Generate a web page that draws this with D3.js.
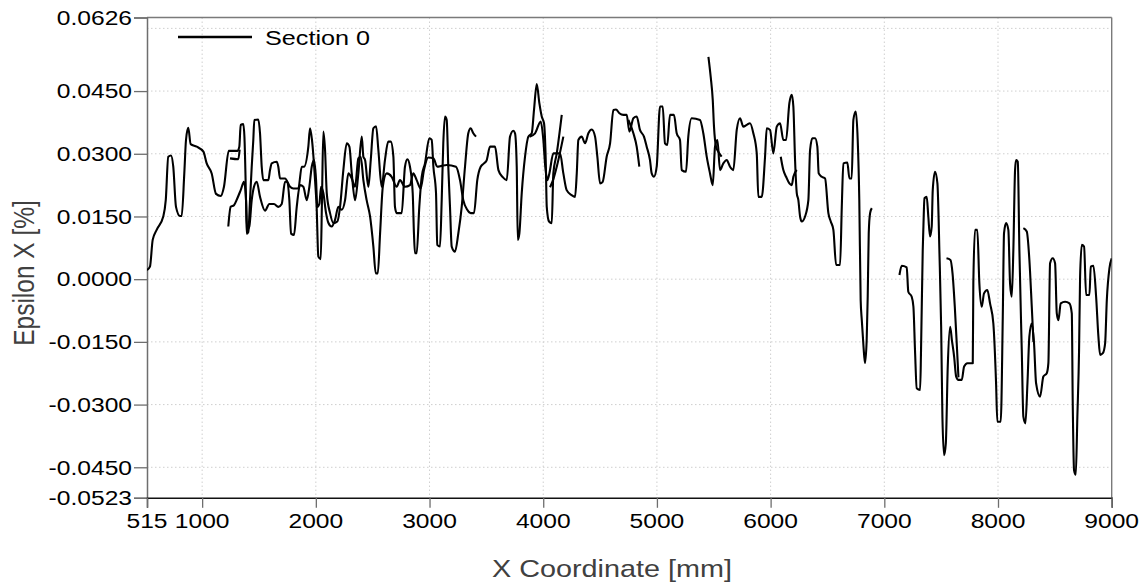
<!DOCTYPE html>
<html>
<head>
<meta charset="utf-8">
<script src="https://cdn.jsdelivr.net/npm/d3@7"></script>
<style>
  body { margin: 0; background: #fff; }
  svg { display: block; font-family: "Liberation Sans", Arial, sans-serif; }
</style>
</head>
<body>
<script>
// tick values as printed on the chart
var xTicks = [515, 1000, 2000, 3000, 4000, 5000, 6000, 7000, 8000, 9000];
var yTicks = [0.0626, 0.0450, 0.0300, 0.0150, 0.0000, -0.0150, -0.0300, -0.0450, -0.0523];
var xGrid = [1000, 2000, 3000, 4000, 5000, 6000, 7000, 8000];
var yGrid = [0.0600, 0.0450, 0.0300, 0.0150, 0.0000, -0.0150, -0.0300, -0.0450];

// Section 0, measured in several overlapping runs [x mm, epsilon %]
var segA = [[515,0.0022],[541,0.0030],[565,0.0094],[600,0.0118],[658,0.0150],[680,0.0189],[702,0.0293],[726,0.0296],[746,0.0269],[770,0.0173],[805,0.0151],[820,0.0151],[843,0.0253],[858,0.0333],[878,0.0362],[899,0.0323],[952,0.0317],[1011,0.0305],[1040,0.0277],[1084,0.0253],[1122,0.0204],[1163,0.0199],[1192,0.0221],[1234,0.0307],[1309,0.0307],[1327,0.0317],[1339,0.0369],[1362,0.0371],[1372,0.0340],[1386,0.0189],[1392,0.0109],[1406,0.0113],[1421,0.0189],[1436,0.0269],[1450,0.0333],[1459,0.0381],[1494,0.0382],[1509,0.0349],[1524,0.0269],[1538,0.0237],[1582,0.0237],[1597,0.0261],[1612,0.0277],[1656,0.0281],[1670,0.0269],[1685,0.0241],[1729,0.0241],[1773,0.0221],[1802,0.0217],[1846,0.0217],[1876,0.0269],[1896,0.0269],[1934,0.0317],[1949,0.0361],[1966,0.0333],[1993,0.0237],[2007,0.0173],[2022,0.0054],[2043,0.0048],[2054,0.0189],[2066,0.0353],[2081,0.0309],[2096,0.0206],[2125,0.0158],[2154,0.0134],[2189,0.0138],[2213,0.0173],[2242,0.0261],[2272,0.0325],[2295,0.0317],[2316,0.0253],[2345,0.0189],[2374,0.0253],[2404,0.0341],[2418,0.0293],[2433,0.0285],[2462,0.0221],[2483,0.0285],[2506,0.0361],[2530,0.0366],[2550,0.0309],[2579,0.0221],[2608,0.0285],[2637,0.0329],[2659,0.0329],[2682,0.0293],[2696,0.0173],[2711,0.0158],[2755,0.0158],[2784,0.0269],[2805,0.0287],[2828,0.0269],[2852,0.0206],[2863,0.0109],[2872,0.0062],[2887,0.0062],[2910,0.0173],[2931,0.0245],[2960,0.0277],[2998,0.0337],[3019,0.0333],[3034,0.0269],[3057,0.0206],[3068,0.0082],[3092,0.0078],[3107,0.0189],[3121,0.0325],[3136,0.0389],[3151,0.0381],[3165,0.0269],[3180,0.0173],[3195,0.0078],[3224,0.0066],[3253,0.0109],[3283,0.0173],[3312,0.0269],[3341,0.0349],[3362,0.0361],[3385,0.0349],[3409,0.0341]];

var segA2 = [[1245,0.0289],[1318,0.0287],[1330,0.0310]];

var segB = [[1230,0.0126],[1251,0.0173],[1280,0.0177],[1309,0.0193],[1339,0.0213],[1368,0.0233],[1386,0.0189],[1397,0.0118],[1415,0.0126],[1436,0.0189],[1456,0.0221],[1480,0.0233],[1509,0.0197],[1553,0.0164],[1591,0.0180],[1632,0.0180],[1670,0.0173],[1700,0.0180],[1729,0.0233],[1749,0.0233],[1767,0.0189],[1782,0.0109],[1808,0.0106],[1832,0.0173],[1861,0.0225],[1890,0.0221],[1920,0.0189],[1943,0.0221],[1964,0.0269],[1984,0.0285],[2002,0.0237],[2013,0.0173],[2031,0.0180],[2046,0.0221],[2066,0.0206],[2090,0.0158],[2110,0.0135],[2139,0.0126],[2169,0.0142],[2198,0.0173],[2228,0.0166],[2257,0.0189],[2286,0.0253],[2316,0.0241],[2345,0.0221],[2374,0.0289],[2395,0.0293],[2418,0.0237],[2447,0.0189],[2477,0.0150],[2506,0.0078],[2527,0.0014],[2545,0.0014],[2565,0.0109],[2589,0.0221],[2623,0.0253],[2667,0.0245],[2711,0.0221],[2740,0.0237],[2784,0.0221],[2828,0.0225],[2857,0.0253],[2887,0.0237],[2922,0.0217],[2951,0.0261],[2989,0.0291],[3034,0.0289],[3068,0.0269],[3107,0.0271],[3151,0.0273],[3233,0.0269],[3268,0.0237],[3297,0.0189],[3332,0.0166],[3362,0.0158],[3391,0.0158],[3420,0.0237],[3450,0.0269],[3479,0.0277],[3503,0.0285],[3532,0.0317],[3576,0.0317],[3606,0.0261],[3644,0.0244],[3679,0.0237],[3708,0.0341],[3737,0.0355],[3752,0.0349],[3767,0.0269],[3776,0.0094],[3790,0.0109],[3811,0.0206],[3840,0.0293],[3869,0.0341],[3899,0.0349],[3919,0.0405],[3943,0.0467],[3966,0.0421],[3987,0.0389],[4007,0.0373],[4022,0.0285],[4031,0.0173],[4051,0.0138],[4075,0.0134],[4089,0.0253],[4119,0.0301],[4163,0.0393]];

var segB2 = [[4060,0.0220],[4090,0.0240],[4120,0.0270],[4177,0.0341]];

var segC = [[3880,0.0341],[3928,0.0349],[3978,0.0377],[4001,0.0333],[4018,0.0269],[4036,0.0237],[4054,0.0253],[4089,0.0301],[4148,0.0301],[4177,0.0253],[4206,0.0213],[4250,0.0201],[4280,0.0197],[4295,0.0253],[4309,0.0333],[4338,0.0341],[4368,0.0325],[4397,0.0349],[4427,0.0358],[4456,0.0341],[4476,0.0293],[4500,0.0229],[4523,0.0233],[4558,0.0293],[4588,0.0325],[4617,0.0405],[4640,0.0406],[4670,0.0397],[4705,0.0393],[4734,0.0393],[4758,0.0353],[4793,0.0385],[4822,0.0389],[4851,0.0357],[4886,0.0341],[4910,0.0317],[4939,0.0285],[4954,0.0253],[4974,0.0245],[4998,0.0269],[5027,0.0413],[5051,0.0413],[5071,0.0325],[5091,0.0321],[5115,0.0393],[5150,0.0393],[5174,0.0349],[5203,0.0333],[5218,0.0261],[5256,0.0257],[5276,0.0341],[5306,0.0385],[5379,0.0381],[5408,0.0349],[5438,0.0293],[5467,0.0253],[5491,0.0225],[5511,0.0317],[5532,0.0333],[5555,0.0261],[5584,0.0277],[5614,0.0285],[5643,0.0269],[5672,0.0261],[5702,0.0357],[5731,0.0385],[5760,0.0365],[5790,0.0369],[5819,0.0373],[5848,0.0349],[5878,0.0301],[5892,0.0197],[5922,0.0197],[5951,0.0293],[5966,0.0361],[5995,0.0357],[6024,0.0301],[6054,0.0365],[6083,0.0373],[6112,0.0333],[6136,0.0333],[6165,0.0421],[6186,0.0441],[6200,0.0413],[6215,0.0285],[6230,0.0206],[6244,0.0189],[6259,0.0150],[6274,0.0138],[6303,0.0150],[6332,0.0189],[6347,0.0309],[6367,0.0337],[6391,0.0337],[6411,0.0317],[6423,0.0253],[6450,0.0245],[6479,0.0241],[6508,0.0158],[6529,0.0138],[6552,0.0118],[6576,0.0034],[6611,0.0034],[6626,0.0173],[6640,0.0277],[6675,0.0279],[6693,0.0241],[6713,0.0241],[6728,0.0381],[6749,0.0401],[6766,0.0333],[6780,0.0189],[6792,-0.0050],[6802,-0.0098],[6817,-0.0161],[6830,-0.0201],[6845,-0.0145],[6854,-0.0042],[6863,0.0110],[6875,0.0158],[6890,0.0170]];

var segC2 = [[4749,0.0381],[4793,0.0349],[4822,0.0317],[4845,0.0269]];
var segC3 = [[6089,0.0293],[6112,0.0261],[6136,0.0245],[6165,0.0229],[6186,0.0225],[6200,0.0245],[6230,0.0261]];
var segS = [[5453,0.0532],[5473,0.0484],[5491,0.0429],[5502,0.0365],[5520,0.0317],[5540,0.0305],[5569,0.0293]];

var segD = [[7133,0.0010],[7153,0.0032],[7197,0.0028],[7211,-0.0030],[7241,-0.0042],[7256,-0.0066],[7270,-0.0170],[7285,-0.0261],[7315,-0.0265],[7323,-0.0170],[7338,0.0070],[7344,0.0126],[7353,0.0194],[7373,0.0197],[7387,0.0150],[7402,0.0102],[7417,0.0126],[7426,0.0213],[7446,0.0257],[7467,0.0229],[7485,0.0062],[7500,-0.0114],[7511,-0.0329],[7526,-0.0421],[7541,-0.0393],[7558,-0.0209],[7579,-0.0114],[7594,-0.0145],[7614,-0.0185],[7632,-0.0233],[7652,-0.0241],[7681,-0.0241],[7702,-0.0209],[7731,-0.0201],[7778,-0.0201],[7783,-0.0010],[7798,0.0118],[7818,0.0118],[7836,-0.0010],[7857,-0.0066],[7877,-0.0034],[7906,-0.0026],[7930,-0.0058],[7959,-0.0106],[7983,-0.0249],[7994,-0.0341],[8024,-0.0341],[8042,-0.0090],[8053,0.0110],[8071,0.0134],[8091,0.0118],[8106,-0.0010],[8121,-0.0042],[8135,0.0070],[8150,0.0261],[8159,0.0285],[8174,0.0281],[8188,0.0070],[8209,-0.0170],[8223,-0.0329],[8241,-0.0345],[8259,-0.0249],[8276,-0.0137],[8297,-0.0106],[8317,-0.0154],[8335,-0.0249],[8370,-0.0281],[8399,-0.0233],[8429,-0.0225],[8443,-0.0201],[8458,0.0038],[8481,0.0050],[8502,0.0038],[8517,-0.0082],[8531,-0.0098],[8552,-0.0058],[8590,-0.0054],[8628,-0.0058],[8649,-0.0082],[8657,-0.0289],[8669,-0.0457],[8684,-0.0468],[8698,-0.0329],[8713,-0.0170],[8722,0.0006],[8737,0.0082],[8757,0.0078],[8775,-0.0038],[8804,-0.0038],[8816,0.0030],[8839,0.0032],[8863,-0.0042],[8883,-0.0137],[8898,-0.0181],[8922,-0.0177],[8942,-0.0154],[8957,-0.0050],[8980,0.0026],[9000,0.0050]];

var segD2 = [[7547,0.0050],[7582,0.0046],[7600,0.0014],[7620,-0.0066],[7640,-0.0170],[7652,-0.0235]];
var segD3 = [[8223,0.0122],[8253,0.0114],[8276,0.0046],[8297,-0.0066],[8312,-0.0150]];

var segments = [segA, segA2, segB, segB2, segC, segC2, segC3, segS, segD, segD2, segD3];

var width = 1145, height = 584;
var plotLeft = 147, plotRight = 1111.7, plotTop = 17.5, plotBottom = 497.8;
var kx = 1.2; // text in the original is stretched horizontally

var svg = d3.select('body').append('svg')
  .attr('width', width)
  .attr('height', height);

var x = d3.scaleLinear().domain([515, 9000]).range([plotLeft, plotRight]);
var y = d3.scaleLinear().domain([-0.0523, 0.0626]).range([plotBottom, plotTop]);

// grid
var grid = svg.append('g').attr('class', 'grid');
grid.selectAll('line.gy')
  .data(yGrid)
  .enter().append('line')
    .attr('class', 'gy')
    .attr('x1', plotLeft).attr('x2', plotRight)
    .attr('y1', function(d) { return y(d); })
    .attr('y2', function(d) { return y(d); });
grid.selectAll('line.gx')
  .data(xGrid)
  .enter().append('line')
    .attr('class', 'gx')
    .attr('y1', plotTop).attr('y2', plotBottom)
    .attr('x1', function(d) { return x(d); })
    .attr('x2', function(d) { return x(d); });
grid.selectAll('line')
  .attr('stroke', '#cfcfcf')
  .attr('stroke-width', 1)
  .attr('stroke-dasharray', '1.5,2.5');

// frame
svg.append('line').attr('x1', plotLeft).attr('x2', plotRight).attr('y1', plotTop).attr('y2', plotTop)
  .attr('stroke', '#7a7a7a').attr('stroke-width', 1.4);
svg.append('line').attr('x1', plotRight).attr('x2', plotRight).attr('y1', plotTop).attr('y2', plotBottom)
  .attr('stroke', '#7a7a7a').attr('stroke-width', 1.4);

// axes
var yAxis = d3.axisLeft(y)
  .tickValues(yTicks)
  .tickSize(13)
  .tickFormat(function() { return ''; });
var gy = svg.append('g')
  .attr('transform', 'translate(' + plotLeft + ',0)')
  .call(yAxis);
gy.select('.domain').attr('stroke', '#6e6e6e').attr('stroke-width', 1.5);
gy.selectAll('.tick line').attr('stroke', '#6e6e6e').attr('stroke-width', 1.3);

var xAxis = d3.axisBottom(x)
  .tickValues(xTicks)
  .tickSize(10)
  .tickFormat(function() { return ''; });
var gx = svg.append('g')
  .attr('transform', 'translate(0,' + plotBottom + ')')
  .call(xAxis);
gx.select('.domain').attr('stroke', '#111').attr('stroke-width', 1.4);
gx.selectAll('.tick line').attr('stroke', '#6e6e6e').attr('stroke-width', 1.3);

// stretched labels
function label(txt, px, py, size, anchor, color, rot) {
  return svg.append('text')
    .attr('transform', 'translate(' + px + ',' + py + ') scale(' + kx + ',1)' + (rot ? ' rotate(' + rot + ')' : ''))
    .attr('text-anchor', anchor)
    .attr('font-size', size)
    .attr('fill', color)
    .text(txt);
}

yTicks.forEach(function(d) {
  label(d.toFixed(4), 132, y(d) + 7.3, 20.5, 'end', '#000');
});
xTicks.forEach(function(d) {
  label(String(d), x(d), plotBottom + 30.5, 20.5, 'middle', '#000');
});

label('X Coordinate [mm]', 612, 577, 24, 'middle', '#404040');
label('Epsilon X [%]', 33.5, 273, 24.5, 'middle', '#404040', -90);

// data
svg.append('clipPath').attr('id', 'clip')
  .append('rect').attr('x', plotLeft).attr('y', plotTop)
  .attr('width', plotRight - plotLeft).attr('height', plotBottom - plotTop);

var line = d3.line()
  .curve(d3.curveMonotoneX)
  .x(function(d) { return x(d[0]); })
  .y(function(d) { return y(d[1]); });

svg.append('g')
  .attr('clip-path', 'url(#clip)')
  .selectAll('path')
  .data(segments)
  .enter().append('path')
    .attr('d', line)
    .attr('fill', 'none')
    .attr('stroke', '#000')
    .attr('stroke-width', 2.1)
    .attr('stroke-linejoin', 'round');

// legend
svg.append('line').attr('x1', 178).attr('x2', 252).attr('y1', 37).attr('y2', 37)
  .attr('stroke', '#000').attr('stroke-width', 2.5);
label('Section 0', 265, 44.5, 21, 'start', '#000');
</script>
</body>
</html>
